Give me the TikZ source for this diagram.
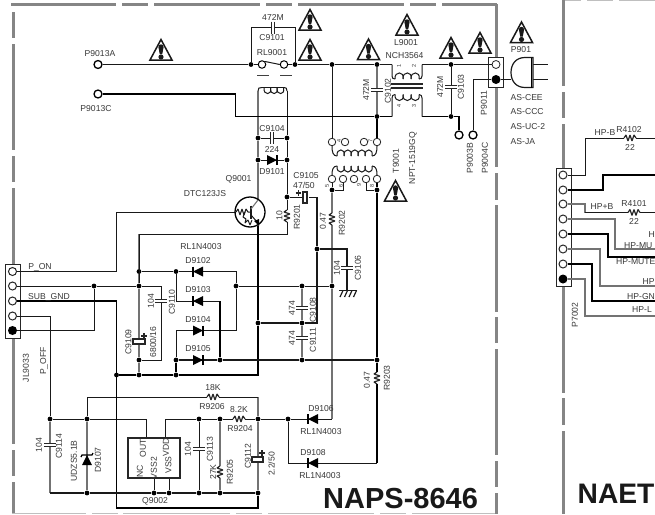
\documentclass[tikz,border=0pt]{standalone}
\usepackage{fontspec}
\setmainfont{Liberation Sans}
\newcounter{lc}
\definecolor{ink}{gray}{0.22}
\definecolor{bord}{gray}{0.52}
\definecolor{wg}{gray}{0.45}
\tikzset{
  x=1pt,y=-1pt,
  tw/.style={line width=1pt,black!90},
  tm/.style={line width=1.3pt,black!90},
  th/.style={line width=1.8pt,black},
  gw/.style={line width=1.1pt,wg},
  bd/.style={line width=3pt,bord},
  sym/.style={line width=1.2pt,black!85},
  lbl/.style={font=\fontsize{8.6}{9}\selectfont,text=ink,inner sep=0pt},
  lblr/.style={lbl,rotate=90},
  tiny/.style={font=\fontsize{5.5}{6}\selectfont,text=ink,inner sep=0pt,rotate=90},
  big/.style={font=\fontsize{29}{30}\selectfont\bfseries,text=black!90,inner sep=0pt,anchor=base west},
  dotn/.style={circle,fill=black,inner sep=0pt,minimum size=4.8pt},
  term/.style={circle,draw=black,fill=white,line width=1.3pt,inner sep=0pt,minimum size=8pt},
  smt/.style={circle,draw=black!85,fill=white,line width=0.8pt,inner sep=0pt,minimum size=7.5pt},
  tb/.style={circle,fill=black,inner sep=0pt,minimum size=9pt},
  box/.style={rectangle,draw=black!85,fill=white,line width=1pt,inner sep=0pt}
}
\newcommand\J[3]{\node[dotn] (#1) at (#2,#3) {};}
\newcommand\C[3]{\coordinate (#1) at (#2,#3);}
\newcommand\Lbl[3]{\stepcounter{lc}\node[lbl] (t\arabic{lc}) at (#1,#2) {#3};}
\newcommand\Rbl[3]{\stepcounter{lc}\node[lblr] (t\arabic{lc}) at (#1,#2) {#3};}
\newcommand\Tny[3]{\stepcounter{lc}\node[tiny] (t\arabic{lc}) at (#1,#2) {#3};}
\newcommand\Warn[2]{\begin{scope}[shift={(#1,#2)}]
  \draw[line width=1.5pt,black!90,line join=miter,fill=white] (0,-10.5) -- (11,10) -- (-11,10) -- cycle;
  \fill[black!90] (-2.6,-3) .. controls (-2.6,-6.5) and (2.6,-6.5) .. (2.6,-3) -- (1.3,4) -- (-1.3,4) -- cycle;
  \fill[black!90] (0,7) circle (2.6pt);
\end{scope}}
\newcommand\hRes[2]{\fill[white] (#1-6,#2-1) rectangle (#1+6,#2+1);
  \draw[sym,line join=bevel] (#1-6,#2) -- (#1-4,#2-3) -- (#1-2,#2+3) -- (#1,#2-3) -- (#1+2,#2+3) -- (#1+4,#2-3) -- (#1+6,#2);}
\newcommand\vRes[2]{\fill[white] (#1-1,#2-6) rectangle (#1+1,#2+6);
  \draw[sym,line join=bevel] (#1,#2-6) -- (#1-3,#2-4) -- (#1+3,#2-2) -- (#1-3,#2) -- (#1+3,#2+2) -- (#1-3,#2+4) -- (#1,#2+6);}
\newcommand\hCap[2]{\fill[white] (#1-2,#2-1) rectangle (#1+2,#2+1);
  \draw[sym] (#1-1.7,#2-6) -- (#1-1.7,#2+6) (#1+1.7,#2-6) -- (#1+1.7,#2+6);}
\newcommand\vCap[2]{\fill[white] (#1-1,#2-2) rectangle (#1+1,#2+2);
  \draw[sym] (#1-6,#2-1.7) -- (#1+6,#2-1.7) (#1-6,#2+1.7) -- (#1+6,#2+1.7);}
\newcommand\dL[2]{\fill[black] (#1-5,#2) -- (#1+5,#2-5) -- (#1+5,#2+5) -- cycle;
  \draw[line width=1.2pt] (#1-5,#2-5) -- (#1-5,#2+5);}
\newcommand\dR[2]{\fill[black] (#1+5,#2) -- (#1-5,#2-5) -- (#1-5,#2+5) -- cycle;
  \draw[line width=1.2pt] (#1+5,#2-5) -- (#1+5,#2+5);}
\newcommand\hCoil[5]{\foreach \i in {1,...,#3} {
   \draw[tw] ({#1+(\i-1)*#4},#2) .. controls ({#1+(\i-1)*#4-1},{#2+#5*1.35}) and ({#1+\i*#4+2},{#2+#5*1.35}) .. ({#1+\i*#4},#2);}}
\begin{document}
\begin{tikzpicture}
\path[use as bounding box] (0,0) rectangle (655,514);
\fill[white] (0,0) rectangle (655,514);
\clip (0,0) rectangle (655,514);
% borders
\foreach \a/\b in {11/116,122/148,154/260,266/292,298/404,410/436,442/497} \draw[bd] (\a,4) -- (\b,4);
\foreach \a/\b in {12/38,44/150,156/182,188/444,450/476,482/514} \draw[bd] (13,\a) -- (13,\b);
\foreach \a/\b in {4/167,173/200,205/312,317/343,349/455,461/487,493/514} \draw[bd] (496,\a) -- (496,\b);
\foreach \a/\b in {0/86,92/118,124/393,398/425,431/514} \draw[bd] (563,\a) -- (563,\b);
\foreach \a/\b in {12/86,92/118,123/230,236/262,268/374,380/406,412/495} \draw[line width=1pt,black!25] (\a,513.5) -- (\b,513.5);
\foreach \a/\b in {565/581,587/613,619/655} \draw[line width=1pt,black!25] (\a,0.4) -- (\b,0.4);
% junctions
\J{a1}{251}{64.5}\J{a2}{295}{64.5}\J{a3}{332}{64.5}\J{a4}{377}{64.5}\J{a5}{451}{64.5}
\J{c1}{377}{116.5}\J{c2}{451}{116.5}
\J{d1}{258}{138}\J{d2}{287}{138}\J{d3}{258}{160}\J{d4}{287}{160}\J{e1}{287}{197}
\J{f1}{317}{249}\J{r1}{332}{286}\J{r2}{302}{286}\J{r3}{236}{286}
\J{m2}{302}{323}\J{m3}{258}{323}\J{t5}{332}{190}\J{t8}{377}{190}
\J{n1}{377}{360}\J{s2}{302}{360}\J{s1}{220}{360}\J{z1}{176}{360}\J{y1}{139}{271.5}\J{y2}{176}{271.5}
\J{x1}{139}{286}\J{x2}{139}{360}\J{u1}{116.5}{375}\J{u2}{139}{375}\J{u3}{176}{375}\J{w1}{94}{286}
\J{p1}{50}{419}\J{p2}{87}{419}\J{h1}{199}{419}\J{h2}{220}{419}\J{v1}{258}{419}\J{h3}{288}{419}
\J{b1}{87}{493}\J{b2}{154}{493}\J{b3}{169}{493}\J{b4}{199}{493}\J{b5}{220}{493}\J{v2}{258}{493}
% corners
\C{k1}{273}{27.5}\C{l1}{392}{64.5}\C{l2}{422}{64.5}\C{l3}{392}{116.5}\C{l4}{422}{116.5}
\C{k2}{235.5}{116.5}\C{e2}{317}{197}\C{f2}{347}{249}\C{f3}{347}{290}\C{m1}{317}{323}\C{k3}{258}{375}
\C{k4}{116.5}{301}\C{k5}{116.5}{508}\C{k6}{258}{508}\C{k7}{116.5}{212}\C{k8}{161}{286}\C{k9}{161}{360}
\C{rb}{287}{234}\C{g1}{258}{91}\C{g2}{287}{91}\C{qc}{258}{200}\C{qe}{258}{226}
\C{e3}{236}{271.5}\C{e4}{236}{330.5}\C{e5}{176}{330.5}\C{e6}{176}{301}\C{e7}{220}{301}
\C{q1}{87}{397}\C{q2}{258}{397}\C{o1}{146}{419}\C{o2}{146}{438}\C{o3}{165}{419}\C{o4}{165}{438}
\C{p3}{50}{493}\C{d6}{332}{419}\C{n2}{377}{463}\C{n3}{288}{463}\C{c3}{459}{116.5}\C{c4}{473}{79.5}
\C{chipb}{154}{478}\C{chipc}{169}{478}
% terminals
\node[term] (PA) at (98,64.5) {};
\node[term] (PC) at (98,94) {};
\node[term] (P3B) at (459,135) {};
\node[term] (P4C) at (473,135) {};
\node[term,line width=1pt,minimum size=7.5pt] (rl1) at (262,64.5) {};
\node[term,line width=1pt,minimum size=7.5pt] (rl2) at (284,64.5) {};
\node[smt] (tt1) at (332,142) {};\node[smt] (tt2) at (345,142) {};\node[smt] (tt3) at (364,142) {};\node[smt] (tt4) at (377,142) {};
\node[smt] (bt1) at (332,179) {};\node[smt] (bt2) at (343,179) {};\node[smt] (bt3) at (354,179) {};\node[smt] (bt4) at (366,179) {};\node[smt] (bt5) at (377,179) {};
% connector boxes
\node[box,minimum width=15pt,minimum height=30pt] (bx1) at (496,72) {};
\node[box,minimum width=15pt,minimum height=74pt] (bx2) at (12.5,301) {};
\node[box,minimum width=15pt,minimum height=118pt] (bx3) at (563.5,227) {};
\node[smt,minimum size=8pt] (pa) at (496,64.5) {};
\node[tb] (pb) at (496,79.5) {};
\foreach \n/\y in {1/271.5,2/286,3/301,4/316} \node[smt,line width=1pt,minimum size=8pt] (j\n) at (12.5,\y) {};
\node[tb] (j5) at (12.5,330.5) {};
\foreach \n/\y in {1/175,2/190,3/204,4/219,5/234,6/249,7/264} \node[smt,line width=1pt,minimum size=8pt] (rq\n) at (563,\y) {};
\node[tb] (rq8) at (563,279) {};
% gray wires
\draw[gw] (g1) -- (d1) -- (d3) -- (qc);
\draw[gw] (a4) -- (c1);
\draw[gw] (y1) -- (x1) -- (x2) -- (u2);
\draw[gw] (x1 |- rb) -- (y1);
\draw[gw] (t5) -- (r1) -- (d6);
\draw[gw] (p1) -- (p3);
\draw[gw] (p2) -- (b1);
\draw[gw] (q2) -- (v1) -- (v2);
\draw[gw] (h2) -- (b5);
\draw[gw] (r2) -- (m2) -- (s2);
% thin wires
\draw[tw] (a5) -- (c2);
\draw[tw] (PA) -- (a1) -- (rl1);
\draw[tw] (rl1.north east) -- (rl2.west);
\draw[tw] (rl2) -- (a2) -- (a3) -- (a4) -- (l1);
\draw[tw] (l2) -- (a5) -- (pa);
\draw[tw] (a1) |- (k1) -| (a2);
\draw[tw] (a3) -- (tt1);
\draw[tw] (d1) -- (d2);\draw[tw] (d3) -- (d4);
\draw[tw] (g2) -- (d2) -- (d4) -- (e1) -- (rb) -| (x1);
\draw[tw] (e1) -- (e2);
\draw[tw] (j1) -| (k7) -- (236,212);
\draw[tw] (j2) -- (w1) -- (x1) -- (k8) -- (k9) -- (x2);
\draw[tw] (j5) -| (w1);
\draw[tw] (j4) -| (p1);
\draw[tw] (y1) -- (y2) -- (e3) -- (r3) -- (e4) -- (e5) -- (z1);
\draw[tw] (y2) -- (e6) -- (e7);
\draw[tw] (r3) -- (r2) -- (r1);
\draw[tw] (p1) -- (p2) -- (o1) -- (o2);
\draw[tw] (q1) -- (p2);\draw[tw] (q1) -- (q2);
\draw[tw] (o4) -- (o3) -- (h1) -- (h2) -- (v1) -- (h3) -- (d6);
\draw[tw] (h1) -- (b4);
\draw[tw] (h3) -- (n3) -- (n2);
\draw[tw] (chipb) -- (b2);\draw[tw] (chipc) -- (b3);
\draw[tw] (bt2.south) |- (t5);
\draw[tw] (bt4.south) |- (t8);
\draw[tw] (t5) -- (bt1);
\draw[tw] (pb) -- (c4) -- (P4C);
\draw[tw] (pb) -- (511,79.5);
% thick wires
\draw[th] (PC) -| (k2) -- (c1) -- (l3);
\draw[th] (c1) -- (tt4);
\draw[th] (l4) -- (c2) -- (c3) -- (P3B);
\draw[tm] (e2) -- (f1) -- (m1) -- (m2) -- (m3);
\draw[tm] (f1) -- (f2) -- (f3);
\draw[th] (qe) -- (m3) -- (k3) -- (u3) -- (u2) -- (u1);
\draw[th] (j3) -- (k4) -- (k5) -- (k6) -- (v2);
\draw[th] (bt5) -- (t8) -- (n1) -- (n2);
\draw[tm] (z1) -- (s1) -- (s2) -- (n1);
\draw[th] (z1) -- (u3);
\draw[th] (e7) -- (s1);
\draw[tm] (b1) -- (p3);
\draw[tm] (b1) -- (b2) -- (b3) -- (b4) -- (b5) -- (v2);
% right panel
\C{ra}{585}{138}\C{rb1}{603}{175}\C{rc}{585}{212.5}\C{rd}{615}{249}\C{re}{608}{257}\C{rf}{600}{286}\C{rg}{592}{301}\C{rh}{585}{316}
\C{sa}{660}{138}\C{sb}{660}{175}\C{sc}{660}{212.5}\C{sd}{660}{249}\C{se}{660}{257}\C{sf}{660}{286}\C{sg}{660}{301}\C{sh}{660}{316}
\draw[tw] (rq1) -| (ra) -- (sa);
\draw[th] (rq2) -| (rb1) -- (sb);
\draw[gw] (rq3) -| (rc);\draw[tw] (rc) -- (sc);
\draw[gw] (rq4) -| (rd) -- (sd);
\draw[th] (rq5) -| (re) -- (se);
\draw[gw] (rq6) -| (rf) -- (sf);
\draw[th] (rq7) -| (rg) -- (sg);
\draw[gw] (rq8) -| (rh) -- (sh);
% coils
\draw[tw] (g1) .. controls (258,88) and (259,87.5) .. (262,87.5);
\draw[tw] (g2) .. controls (287,88) and (286,87.5) .. (284,87.5);
\draw[tw] (262,87.5) -- (284,87.5);
\hCoil{264}{88}{3}{6.5}{5.5}
\draw[tw] (l1) -- (392,76) .. controls (392,78) and (393,79) .. (395,79);
\draw[tw] (l2) -- (422,76) .. controls (422,78) and (421,79) .. (419,79);
\hCoil{395}{79}{3}{8}{-6}
\draw[tw] (l3) -- (392,98) .. controls (392,96) and (393,94.5) .. (395,94.5);
\draw[tw] (l4) -- (422,98) .. controls (422,96) and (421,94.5) .. (419,94.5);
\hCoil{395}{94.5}{3}{8}{6}
\draw[line width=1.1pt,black!85] (391,84) -- (423,84) (391,88) -- (423,88);
\draw[tw] (tt1) .. controls (332,152) and (333,156) .. (337,156);
\draw[tw] (tt4) .. controls (377,152) and (376,156) .. (372,156);
\hCoil{337}{156}{5}{7}{-6}
\draw[tw] (bt1) .. controls (332,170) and (333,166) .. (337,166);
\draw[tw] (bt5) .. controls (377,170) and (376,166) .. (372,166);
\hCoil{337}{166}{5}{7}{6}
% plug
\draw[tw] (533,64.5) -- (548,64.5) (533,79.5) -- (548,79.5);
\draw[line width=1.2pt,black!90,fill=white] (533,57.5) -- (525,57.5) .. controls (516,57.5) and (511,64) .. (511,72.5) .. controls (511,81) and (516,87.5) .. (525,87.5) -- (533,87.5) -- cycle;
\draw[line width=0.8pt] (531,57.5) -- (531,87.5);
% chip
\node[box,line width=1.2pt,minimum width=52pt,minimum height=40pt] (chip) at (154,458) {};
\Rbl{140}{471}{NC}\Rbl{143}{448}{OUT}\Rbl{154}{468}{VSS2}\Rbl{168.5}{465}{VSS}\Rbl{166}{447}{VDD}
% components
\hCap{273}{27.5}\hCap{272}{138}\dR{272}{160}
\vCap{377}{90}\vCap{451}{87}
\hRes{213}{397}\hRes{239}{419}\vRes{287}{216}\vRes{332}{219}\vRes{377}{378}\vRes{220}{472}
\hRes{630}{138}\hRes{634}{212.5}
\vCap{347}{268}\vCap{302}{308}\vCap{302}{338}\vCap{161}{301}\vCap{50}{445}\vCap{199}{449}
\dL{198}{271.5}\dL{198}{301}\dR{198}{330.5}\dR{198}{360}\dL{313}{419}\dL{313}{463}
% zener
\fill[black] (87,455) -- (82,465) -- (92,465) -- cycle;
\draw[line width=1.2pt] (81,457) -- (82,455) -- (92,455) -- (93,453);
% polarized caps
\fill[white] (302,191) rectangle (309,203);
\draw[line width=1.3pt,black!85] (302.5,191) -- (302.5,203);
\draw[line width=1.1pt,black!85,fill=white] (303,192) rectangle (307,203);
\draw[line width=1.1pt,black!85] (295.5,193) -- (301,193) (298.2,190) -- (298.2,196);
\draw[line width=1.1pt,black!85,fill=white] (133,339) rectangle (145,344);
\draw[line width=1.1pt,black!85] (141,336) -- (147,336) (144,333) -- (144,339);
\draw[line width=1.1pt,black!85,fill=white] (252,457) rectangle (263,462);
\draw[line width=1.1pt,black!85] (259,453) -- (265,453) (262,450) -- (262,456);
% ground
\draw[line width=1.4pt,black!90] (339,290.5) -- (357,290.5);
\foreach \a in {343,347.5,352,356.5} \draw[line width=1.2pt,black!90] (\a,290.5) -- (\a-3,297);
% transistor
\node[circle,draw=black,line width=1.3pt,inner sep=0pt,minimum size=30pt] (Q) at (250,212) {};
\draw[line width=1pt,black!90,line join=bevel] (236,212) -- (238,209) -- (240,215) -- (242,209) -- (244,215) -- (246,209) -- (248,212) -- (251,212);
\draw[line width=1.3pt,black!90] (251,205.5) -- (251,219);
\draw[gw] (251,209) -- (qc);
\draw[line width=1pt,black!90] (251,215) -- (258,223) -- (qe);
\draw[line width=1pt,black!90,line join=bevel] (245,212) -- (243,217) -- (246,219) -- (245,223) -- (248,220) -- (250,225) -- (252,220);
\fill[black] (259,226) -- (254,221) -- (259,219) -- cycle;
% warnings
\Warn{161}{50}\Warn{310}{20}\Warn{310}{50}\Warn{368.5}{49.5}\Warn{407}{25}\Warn{451}{48}\Warn{480}{43}\Warn{521.5}{32.5}\Warn{395.5}{191}
% labels
\Lbl{100}{54}{P9013A}\Lbl{96}{109}{P9013C}
\Lbl{273}{17}{472M}\Lbl{272}{38}{C9101}\Lbl{272}{53}{RL9001}
\draw[line width=1pt,black!75] (257,75.5) -- (269,75.5) (280,75.5) -- (292,75.5);
\Lbl{272}{129}{C9104}\Lbl{272}{149}{224}\Lbl{272}{172}{D9101}
\Lbl{238.5}{179}{Q9001}\Lbl{205}{194}{DTC123JS}
\Lbl{306}{176}{C9105}\Lbl{304}{185}{47/50}
\Rbl{279.5}{215.5}{10}\Rbl{297}{217}{R9201}
\Lbl{201}{247}{RL1N4003}
\Lbl{198}{261}{D9102}\Lbl{198}{290}{D9103}\Lbl{198}{320}{D9104}\Lbl{198}{349}{D9105}
\Lbl{40}{267}{P\_ON}\Lbl{49}{297}{SUB\_GND}
\Rbl{44}{361}{P\_OFF}\Rbl{26}{368}{JL9033}
\Rbl{151}{301}{104}\Rbl{172}{302}{C9110}
\Rbl{128.5}{342}{C9109}\Rbl{153}{342}{6800/16}
\Lbl{213}{388}{18K}\Lbl{212}{407}{R9206}\Lbl{239}{410}{8.2K}\Lbl{240}{429}{R9204}
\Rbl{39}{445}{104}\Rbl{59}{446}{C9114}
\Rbl{74}{461}{UDZS5.1B}\Rbl{98}{460}{D9107}
\Rbl{188}{449}{104}\Rbl{210}{449}{C9113}
\Rbl{213}{472}{27K}\Rbl{230}{472}{R9205}
\Rbl{248}{456}{C9112}\Rbl{271.5}{464}{2.2/50}
\Lbl{155}{501}{Q9002}
\Lbl{321}{409}{D9106}\Lbl{321}{432}{RL1N4003}\Lbl{313}{453}{D9108}\Lbl{320}{476}{RL1N4003}
\Rbl{292}{308}{474}\Rbl{313}{310}{C9108}\Rbl{292}{338}{474}\Rbl{313}{340}{C9111}
\Rbl{337}{268}{104}\Rbl{358}{268}{C9106}
\Rbl{323}{221}{0.47}\Rbl{342}{223}{R9202}\Rbl{367}{380}{0.47}\Rbl{387}{378}{R9203}
\Rbl{366}{90}{472M}\Rbl{388}{91}{C9102}\Rbl{440}{87}{472M}\Rbl{461}{87}{C9103}
\Lbl{406}{43}{L9001}\Lbl{404.5}{56}{NCH3564}
\Rbl{396}{161}{T9001}\Rbl{413}{158}{NPT-1519GQ}
\Rbl{470}{158}{P9003B}\Rbl{485}{158}{P9004C}\Rbl{484}{103}{P9011}
\Lbl{521}{50}{P901}
\stepcounter{lc}\node[lbl,anchor=west] (t\arabic{lc}) at (510.5,98) {AS-CEE};
\stepcounter{lc}\node[lbl,anchor=west] (t\arabic{lc}) at (510.5,112) {AS-CCC};
\stepcounter{lc}\node[lbl,anchor=west] (t\arabic{lc}) at (510.5,127) {AS-UC-2};
\stepcounter{lc}\node[lbl,anchor=west] (t\arabic{lc}) at (510.5,142) {AS-JA};
\Tny{399}{66}{1}\Tny{414}{66}{2}\Tny{399}{106}{4}\Tny{414}{106}{3}
\Tny{339}{141}{4}\Tny{370.5}{141}{7}\Tny{327}{186}{5}\Tny{341}{186}{6}\Tny{359}{185}{9}\Tny{372}{186}{8}
\Lbl{605}{133}{HP-B}\Lbl{629}{130}{R4102}\Lbl{630}{147}{22}
\Lbl{602}{207}{HP+B}\Lbl{634}{204}{R4101}\Lbl{634}{221}{22}
\stepcounter{lc}\node[lbl,anchor=west] (t\arabic{lc}) at (648.5,235) {H};
\stepcounter{lc}\node[lbl,anchor=west] (t\arabic{lc}) at (624,245.5) {HP-MU};
\stepcounter{lc}\node[lbl,anchor=west] (t\arabic{lc}) at (616,261.5) {HP-MUTE};
\stepcounter{lc}\node[lbl,anchor=west] (t\arabic{lc}) at (642.5,281.5) {HP};
\stepcounter{lc}\node[lbl,anchor=west] (t\arabic{lc}) at (627,297) {HP-GN};
\stepcounter{lc}\node[lbl,anchor=west] (t\arabic{lc}) at (632,309.5) {HP-L};
\Rbl{575}{315}{P7002}
\node[big] (naps) at (323,508) {NAPS-8646};
\node[big,font=\fontsize{28.2}{30}\selectfont\bfseries] (naet) at (577.5,503) {NAET};
\end{tikzpicture}
\end{document}
